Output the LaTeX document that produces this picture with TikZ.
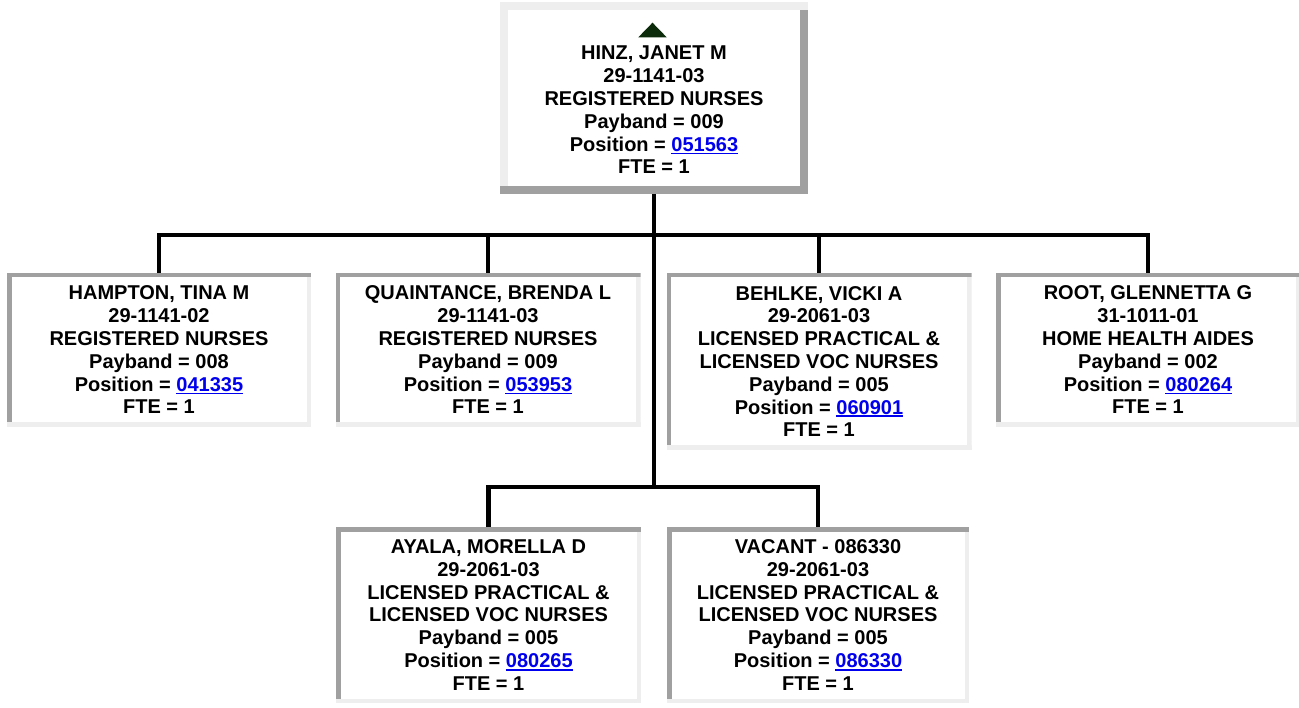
\documentclass[tikz,border=0pt]{standalone}
\usepackage{fontspec}
\setmainfont{Liberation Sans}
\definecolor{bevlight}{HTML}{EEEEEE}
\definecolor{bevdark}{HTML}{A0A0A0}
\definecolor{linkblue}{HTML}{0000EE}
\definecolor{upgreen}{HTML}{0B2B0B}
\newcommand{\poslink}[1]{\textcolor{linkblue}{\setbox0\hbox{#1}\rlap{\rule[-3.2pt]{\wd0}{1.8pt}}\box0}}
\begin{document}
\begin{tikzpicture}[
    x=1pt, y=-1pt,
    box/.style={rectangle, fill=white, inner sep=0pt, outer sep=0pt, align=center, font=\fontsize{20}{22.8}\selectfont\bfseries, minimum width=305pt, minimum height=154pt},
    topbox/.style={box, minimum width=308pt, minimum height=192pt, path picture={
        \fill[bevlight] (path picture bounding box.north west) rectangle ([yshift=-8pt]path picture bounding box.north east);
        \fill[bevlight] (path picture bounding box.north west) rectangle ([xshift=8pt]path picture bounding box.south west);
        \fill[bevdark] ([yshift=8pt]path picture bounding box.south west) rectangle (path picture bounding box.south east);
        \fill[bevdark] ([xshift=-8pt,yshift=-8pt]path picture bounding box.north east) rectangle (path picture bounding box.south east);}},
    subbox/.style={box, path picture={
        \fill[bevlight] (path picture bounding box.south west) rectangle ([yshift=4.5pt]path picture bounding box.south east);
        \fill[bevlight] ([xshift=-4.5pt,yshift=-4.5pt]path picture bounding box.north east) rectangle (path picture bounding box.south east);
        \fill[bevdark] (path picture bounding box.north west) rectangle ([yshift=-4.5pt]path picture bounding box.north east);
        \fill[bevdark] (path picture bounding box.north west) rectangle ([xshift=4.5pt,yshift=4.5pt]path picture bounding box.south west);}},
    wire/.style={line width=4.5pt, black},
]
\fill[white] (0,0) rectangle (1299,708);
\useasboundingbox (0,0) rectangle (1299,708);
\node[topbox] (hinz) at (654,98) {\rule{0pt}{15.2pt}\\HINZ, JANET M\\29-1141-03\\REGISTERED NURSES\\Payband = 009\\Position = \poslink{051563}\\FTE = 1};
\fill[upgreen] ([xshift=-1.5pt,yshift=-20.7pt]hinz.north) -- ([xshift=-15.7pt,yshift=-35.3pt]hinz.north) -- ([xshift=12.7pt,yshift=-35.3pt]hinz.north) -- cycle;
\node[subbox, minimum width=304pt] (hampton) at (159,350) {HAMPTON, TINA M\\29-1141-02\\REGISTERED NURSES\\Payband = 008\\Position = \poslink{041335}\\FTE = 1};
\node[subbox] (quaint) at (488,350) {QUAINTANCE, BRENDA L\\29-1141-03\\REGISTERED NURSES\\Payband = 009\\Position = \poslink{053953}\\FTE = 1};
\node[subbox, minimum height=177pt] (behlke) at (819,361.5) {BEHLKE, VICKI A\\29-2061-03\\LICENSED PRACTICAL \&\\LICENSED VOC NURSES\\Payband = 005\\Position = \poslink{060901}\\FTE = 1};
\node[subbox, minimum width=304pt] (root) at (1148,350) {ROOT, GLENNETTA G\\31-1011-01\\HOME HEALTH AIDES\\Payband = 002\\Position = \poslink{080264}\\FTE = 1};
\node[subbox, minimum height=176pt] (ayala) at (488.5,615) {AYALA, MORELLA D\\29-2061-03\\LICENSED PRACTICAL \&\\LICENSED VOC NURSES\\Payband = 005\\Position = \poslink{080265}\\FTE = 1};
\node[subbox, minimum width=302pt, minimum height=176pt] (vacant) at (818,615) {VACANT - 086330\\29-2061-03\\LICENSED PRACTICAL \&\\LICENSED VOC NURSES\\Payband = 005\\Position = \poslink{086330}\\FTE = 1};
\coordinate (bus) at (654,235);
\coordinate (fork) at (654,487);
\draw[wire] (hinz.south) -- (fork);
\draw[wire] (hampton.north) |- (bus) -| (root.north);
\draw[wire] (quaint.north) -- (quaint.north |- bus);
\draw[wire] (behlke.north) -- (behlke.north |- bus);
\draw[wire] (ayala.north) |- (fork) -| (vacant.north);
\end{tikzpicture}
\end{document}
